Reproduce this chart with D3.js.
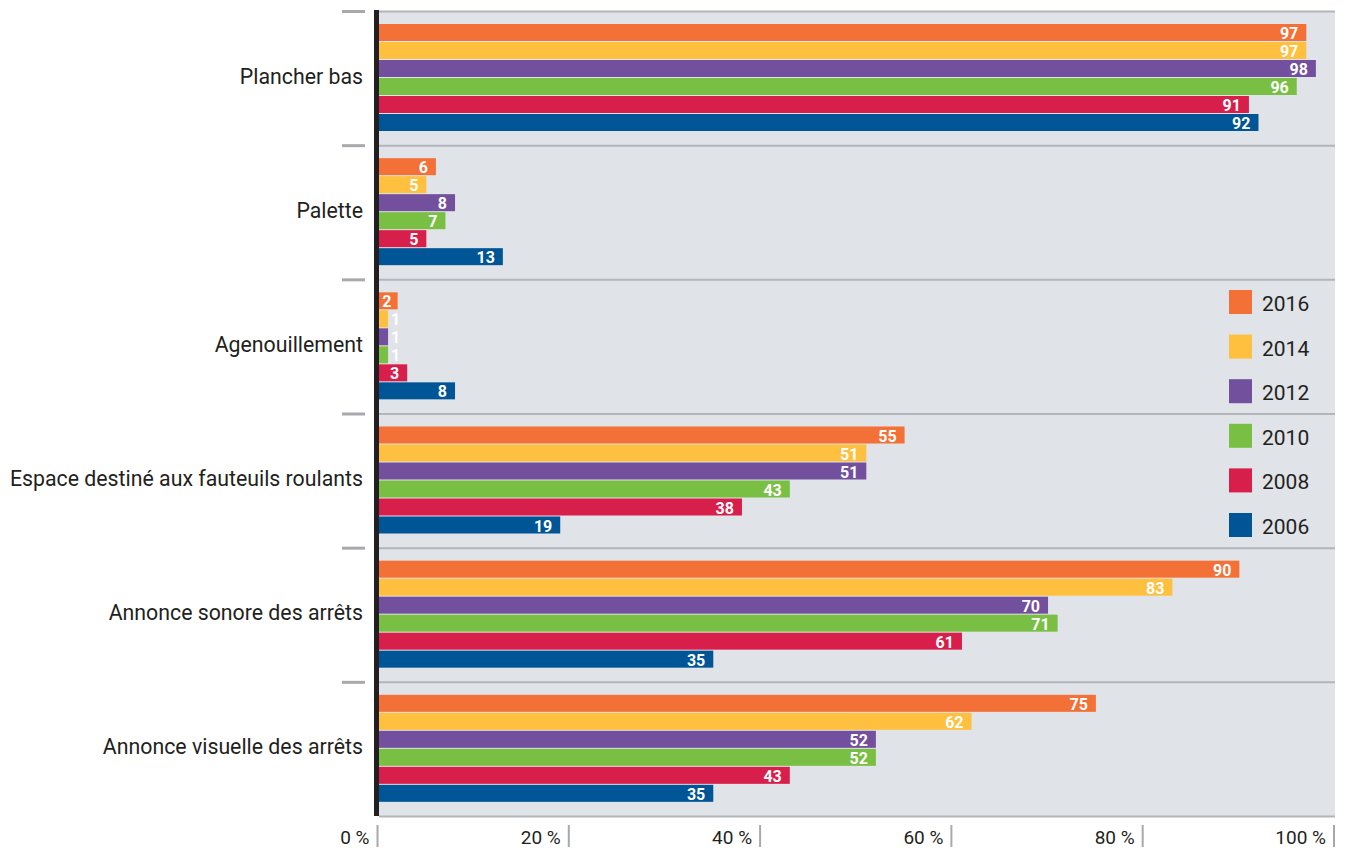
<!DOCTYPE html>
<html>
<head>
<meta charset="utf-8">
<script src="https://cdn.jsdelivr.net/npm/d3@7"></script>
<style>
  html, body { margin: 0; padding: 0; background: #ffffff; }
  svg { display: block; }
</style>
</head>
<body>
<svg id="chart" width="1353" height="850"></svg>
<script>
// Accessibility features of buses, share equipped (%) by year
const categories = [
  "Plancher bas",
  "Palette",
  "Agenouillement",
  "Espace destiné aux fauteuils roulants",
  "Annonce sonore des arrêts",
  "Annonce visuelle des arrêts"
];
const years = ["2016", "2014", "2012", "2010", "2008", "2006"];
const values2016 = [97, 6, 2, 55, 90, 75];
const values2014 = [97, 5, 1, 51, 83, 62];
const values2012 = [98, 8, 1, 51, 70, 52];
const values2010 = [96, 7, 1, 43, 71, 52];
const values2008 = [91, 5, 3, 38, 61, 43];
const values2006 = [92, 13, 8, 19, 35, 35];
const colors = ["#f37037", "#fec03e", "#73509e", "#79bf43", "#d81e4a", "#005596"];
const tickValues = [0, 20, 40, 60, 80, 100];

const seriesValues = [values2016, values2014, values2012, values2010, values2008, values2006];

const svg = d3.select("#chart");
const fontFamily = "Roboto, 'Noto Sans', sans-serif";

const x = d3.scaleLinear().domain([0, 100]).range([378.5, 1335]);
const y = d3.scaleBand().domain(categories).range([11, 816]);
const yInner = d3.scaleBand().domain(years).range([13, 120]).paddingInner(1 / 18);
const plotLeft = 379, plotRight = 1335;

// plot background
svg.append("rect")
  .attr("x", plotLeft).attr("y", y.range()[0])
  .attr("width", plotRight - plotLeft).attr("height", y.range()[1] - y.range()[0])
  .attr("fill", "#e0e3e7");

// group separators
const bounds = categories.map(c => y(c)).concat([y.range()[1]]);
svg.append("g").selectAll("line").data(bounds).join("line")
  .attr("x1", plotLeft).attr("x2", plotRight)
  .attr("y1", d => d + 0.5).attr("y2", d => d + 0.5)
  .attr("stroke", "#b3b6b9").attr("stroke-width", 2);

// short category ticks left of the axis
svg.append("g").selectAll("line").data(categories).join("line")
  .attr("x1", 342).attr("x2", 365)
  .attr("y1", d => y(d) + 0.5).attr("y2", d => y(d) + 0.5)
  .attr("stroke", "#a7a9ac").attr("stroke-width", 3);

// category labels
svg.append("g").selectAll("text").data(categories).join("text")
  .attr("x", 363)
  .attr("y", d => y(d) + y.bandwidth() / 2 - 2)
  .attr("text-anchor", "end")
  .attr("dominant-baseline", "central")
  .attr("font-family", fontFamily)
  .attr("font-size", 21.3)
  .attr("fill", "#231f20")
  .text(d => d);

// bars
const rows = [];
categories.forEach((c, ci) => {
  years.forEach((yr, yi) => {
    rows.push({ cat: c, year: yr, value: seriesValues[yi][ci], color: colors[yi] });
  });
});

const bars = svg.append("g");
bars.selectAll("rect").data(rows).join("rect")
  .attr("x", x(0) + 0.5)
  .attr("y", d => y(d.cat) + yInner(d.year))
  .attr("width", d => x(d.value) - x(0) - 0.5)
  .attr("height", yInner.bandwidth())
  .attr("fill", d => d.color);

// value labels: inside the bar end, or just past it when the bar is too short
const fitsInside = d => x(d.value) - x(0) >= 15;
bars.selectAll("text").data(rows).join("text")
  .attr("x", d => fitsInside(d) ? Math.max(x(d.value) - 8, x(0) + 13) : x(d.value) + 3)
  .attr("y", d => y(d.cat) + yInner(d.year) + yInner.bandwidth() / 2 + 1)
  .attr("text-anchor", d => fitsInside(d) ? "end" : "start")
  .attr("dominant-baseline", "central")
  .attr("font-family", fontFamily)
  .attr("font-weight", "bold")
  .attr("font-size", 16)
  .attr("fill", "#ffffff")
  .text(d => d.value);

// vertical axis line
svg.append("line")
  .attr("x1", 376.5).attr("x2", 376.5)
  .attr("y1", 10).attr("y2", 816)
  .attr("stroke", "#231f20").attr("stroke-width", 5);

// x axis ticks and labels
const xAxis = svg.append("g");
xAxis.selectAll("line").data(tickValues).join("line")
  .attr("x1", d => x(d) - 1).attr("x2", d => x(d) - 1)
  .attr("y1", 825).attr("y2", 847)
  .attr("stroke", "#a7a9ac").attr("stroke-width", 2);
xAxis.selectAll("text").data(tickValues).join("text")
  .attr("x", d => x(d) - 9)
  .attr("y", 844)
  .attr("text-anchor", "end")
  .attr("font-family", fontFamily)
  .attr("font-size", 19)
  .attr("fill", "#231f20")
  .text(d => d + " %");

// legend
const legend = svg.append("g").attr("transform", "translate(1229,290)");
const legendRows = legend.selectAll("g").data(years).join("g")
  .attr("transform", (d, i) => `translate(0,${i * 44.6})`);
legendRows.append("rect")
  .attr("width", 23).attr("height", 24)
  .attr("fill", (d, i) => colors[i]);
legendRows.append("text")
  .attr("x", 33).attr("y", 21)
  .attr("font-family", fontFamily)
  .attr("font-size", 21)
  .attr("fill", "#231f20")
  .text(d => d);
</script>
</body>
</html>
